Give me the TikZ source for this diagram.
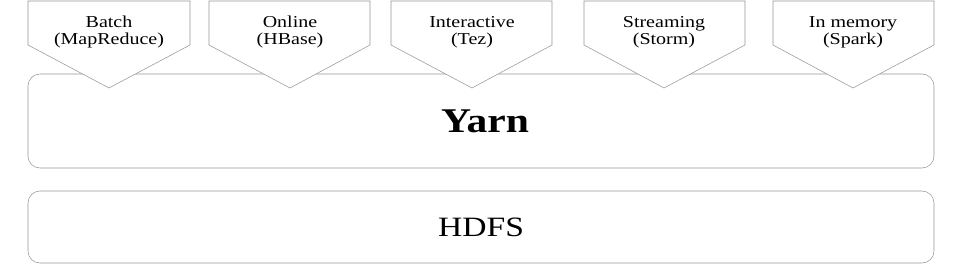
\documentclass[tikz,border=0pt]{standalone}
\usepackage{fontspec}
\setmainfont{Liberation Serif}[FakeStretch=1.2]
\usepackage{tikz}
\definecolor{lineGray}{RGB}{150, 150, 150}
\tikzset{
  layer/.style={lineGray, rounded corners=9pt},
  engine/.style={lineGray, fill=white},
  engineText/.style={align=center, font=\fontsize{12.5}{12.75}\selectfont}
}

\begin{document}
\begin{tikzpicture}[x=0.75pt, y=-0.75pt]
        \useasboundingbox (0,0) rectangle (963,265);
        \draw[layer] (28,74) rectangle (934,168);
        \draw[layer] (28,191) rectangle (934,263);
        \node (yarn) at (485,121) {\fontsize{26}{30}\selectfont\bfseries Yarn};
        \node (hdfs) at (481,227) {\fontsize{21}{25}\selectfont HDFS};
        % processing engines on top of Yarn
        \filldraw[engine] (28,1) -- (190,1) -- (190,45) -- (109,88) -- (28,45) -- cycle;
        \filldraw[engine] (209,1) -- (370,1) -- (370,45) -- (290,88) -- (209,45) -- cycle;
        \filldraw[engine] (391,1) -- (552,1) -- (552,45) -- (472,88) -- (391,45) -- cycle;
        \filldraw[engine] (584,1) -- (745,1) -- (745,45) -- (664,88) -- (584,45) -- cycle;
        \filldraw[engine] (773,1) -- (934,1) -- (934,45) -- (853,88) -- (773,45) -- cycle;
        \node[engineText] (batch) at (109,32) {Batch\\(MapReduce)};
        \node[engineText] (online) at (290,32) {Online\\(HBase)};
        \node[engineText] (interactive) at (472,32) {Interactive\\(Tez)};
        \node[engineText] (streaming) at (664,32) {Streaming\\(Storm)};
        \node[engineText] (inmemory) at (853,32) {In memory\\(Spark)};
      \end{tikzpicture}
\end{document}
